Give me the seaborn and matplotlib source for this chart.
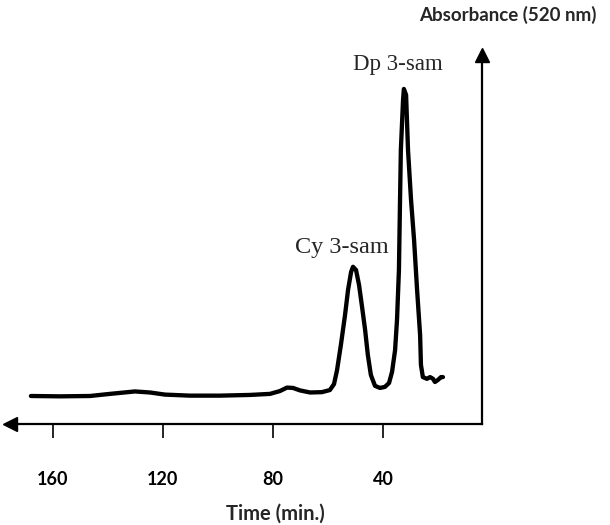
import matplotlib
matplotlib.use("Agg")
import matplotlib.pyplot as plt
import seaborn as sns
import pandas as pd

# Retention time (min) and absorbance at 520 nm (arbitrary units)
time_min = [168.0, 157.5, 146.5, 139.3, 130.2, 124.7, 119.3, 110.2, 99.3, 88.4,
            81.1, 77.5, 74.9, 72.7, 70.2, 66.5, 62.2, 59.3, 57.8, 56.7,
            55.3, 53.8, 52.7, 51.6, 50.9, 49.8, 48.7, 47.6, 46.5, 45.5,
            44.4, 42.9, 41.1, 39.3, 37.8, 36.7, 35.6, 34.9, 34.2, 33.8,
            33.5, 32.7, 32.4, 31.6, 30.9, 29.8, 28.7, 27.6, 26.5, 26.2,
            25.5, 24.0, 22.9, 21.8, 21.1, 20.0, 18.9, 18.2]
absorbance = [0.080, 0.079, 0.080, 0.086, 0.093, 0.090, 0.084, 0.081, 0.081, 0.083,
              0.086, 0.094, 0.104, 0.103, 0.096, 0.090, 0.091, 0.097, 0.114, 0.154,
              0.226, 0.311, 0.383, 0.434, 0.449, 0.440, 0.397, 0.334, 0.269, 0.197,
              0.140, 0.109, 0.103, 0.106, 0.117, 0.149, 0.211, 0.297, 0.440, 0.640,
              0.783, 0.926, 0.957, 0.940, 0.783, 0.640, 0.526, 0.383, 0.254, 0.169,
              0.134, 0.129, 0.134, 0.129, 0.120, 0.126, 0.134, 0.134]

tick_values = [160, 120, 80, 40]
tick_labels = ["160", "120", "80", "40"]
peak_labels = ["Dp 3-sam", "Cy 3-sam"]
x_label = "Time (min.)"
y_label = "Absorbance (520 nm)"

df = pd.DataFrame({"t": time_min, "A": absorbance})

sns.set_theme(style="white")
plt.rcParams["font.family"] = ["Lato", "DejaVu Sans"]

W, H = 610, 525
fig = plt.figure(figsize=(W / 100, H / 100), dpi=100)
# axes spanning pixel x 10..482, y 55..424
ax = fig.add_axes([10 / W, (H - 424) / H, 472 / W, 369 / H])

sns.lineplot(data=df, x="t", y="A", sort=False, estimator=None, ax=ax,
             color="black", linewidth=3.1, solid_joinstyle="round",
             solid_capstyle="round")

ax.set_xlim(175.6, 4.0)
ax.set_ylim(0, 1.054)

for s in ["top", "left"]:
    ax.spines[s].set_visible(False)
for s in ["bottom", "right"]:
    ax.spines[s].set_visible(True)
    ax.spines[s].set_color("black")
    ax.spines[s].set_linewidth(1.6)

ax.set_xticks(tick_values)
ax.set_xticklabels(tick_labels, fontsize=13, fontweight="bold")
ax.tick_params(axis="x", direction="out", length=10, width=1.2, pad=24,
               colors="black", bottom=True)
ax.set_yticks([])
ax.set_xlabel("")
ax.set_ylabel("")

# arrowheads
ax.plot([175.6], [0], marker="<", markersize=10, color="black", clip_on=False)
ax.plot([4.0], [1.054], marker="^", markersize=10, color="black", clip_on=False)

fig.text(275 / W, 1 - 514 / H, x_label, ha="center", va="center",
         fontsize=14.5, fontweight="bold")
fig.text(419 / W, 1 - 15 / H, y_label, ha="left", va="center",
         fontsize=13.5, fontweight="bold")

ax.text(34.5, 1.026, peak_labels[0], ha="center", va="center",
        fontsize=16.5, family=["Liberation Serif"])
ax.text(55.0, 0.503, peak_labels[1], ha="center", va="center",
        fontsize=17.5, family=["Liberation Serif"])

fig.savefig("out.png", dpi=100, facecolor="white")
